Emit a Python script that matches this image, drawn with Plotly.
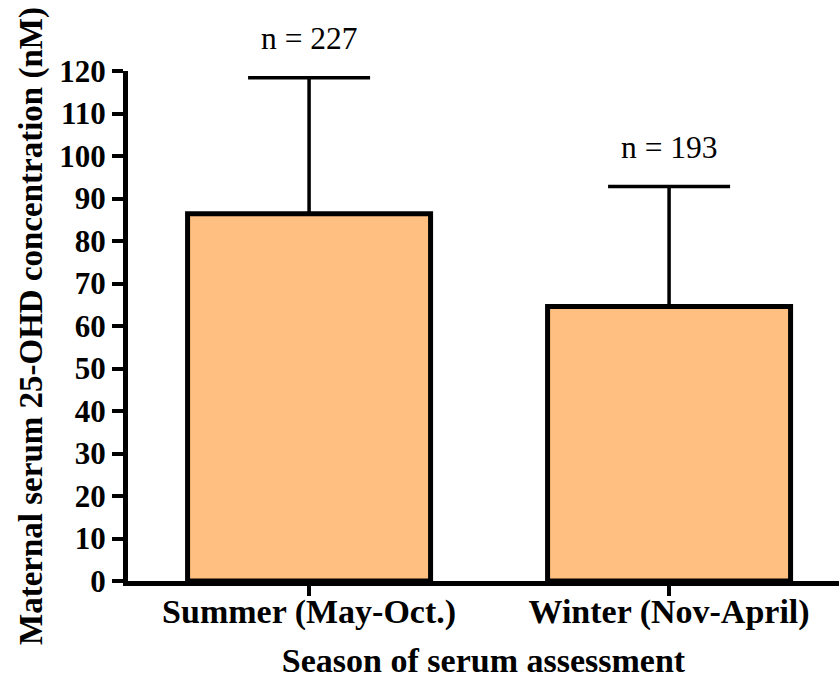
import plotly.graph_objects as go

# Maternal serum 25-OHD by season of assessment (mean + SD)
seasons = ["Summer (May-Oct.)", "Winter (Nov-April)"]
mean_ohd = [86.4, 64.6]
sd_ohd = [32.0, 28.2]
n_counts = [227, 193]
y_ticks = list(range(0, 121, 10))

FONT = "Liberation Serif"

fig = go.Figure()
fig.add_trace(go.Bar(
    x=seasons,
    y=mean_ohd,
    marker=dict(color="#FFBF80", line=dict(color="black", width=5)),
    error_y=dict(type="data", symmetric=False, array=sd_ohd,
                 arrayminus=[0] * len(sd_ohd),
                 color="black", thickness=3.5, width=61),
    showlegend=False,
))

for s, m, sd, n in zip(seasons, mean_ohd, sd_ohd, n_counts):
    fig.add_annotation(x=s, y=m + sd, text=f"n = {n}", showarrow=False,
                       yanchor="middle", yshift=39,
                       font=dict(family=FONT, size=31.5, color="black"))

fig.update_layout(
    width=839, height=679,
    margin=dict(l=128, r=0, t=71, b=96),
    plot_bgcolor="white", paper_bgcolor="white",
    bargap=0.325,
    font=dict(family=FONT, color="black"),
)
fig.update_xaxes(
    type="category", range=[-0.503, 1.472],
    showline=True, linecolor="black", linewidth=5,
    ticks="outside", ticklen=10, tickwidth=4, tickcolor="black",
    ticklabelstandoff=-14,
    tickfont=dict(family=FONT, size=34, color="black", weight="bold"),
    title=dict(text="Season of serum assessment", standoff=24,
               font=dict(family=FONT, size=34, color="black", weight="bold")),
    showgrid=False, zeroline=False,
)
fig.update_yaxes(
    range=[0, 120], tickvals=y_ticks,
    showline=True, linecolor="black", linewidth=5,
    ticks="outside", ticklen=11, tickwidth=4, tickcolor="black",
    tickfont=dict(family=FONT, size=31, color="black", weight="bold"),
    title=dict(text="Maternal serum 25-OHD concentration (nM)", standoff=8,
               font=dict(family=FONT, size=33, color="black", weight="bold")),
    showgrid=False, zeroline=False,
)

fig.write_html("out.html")
